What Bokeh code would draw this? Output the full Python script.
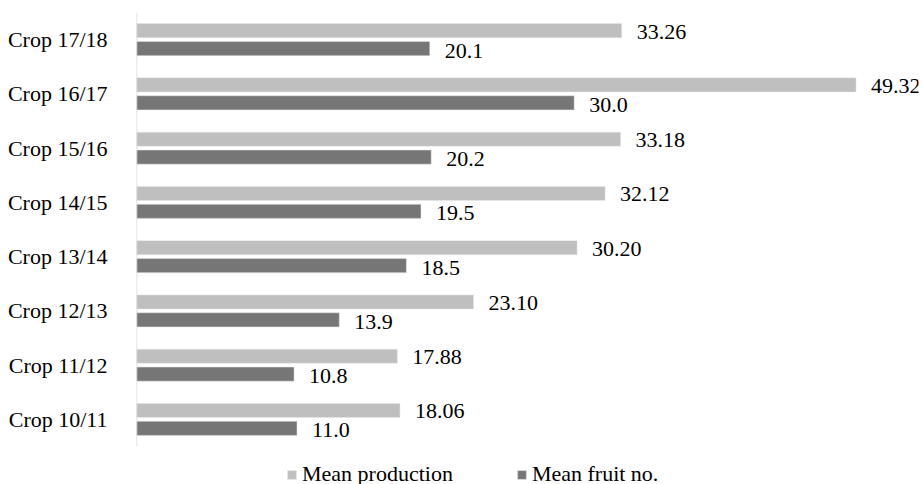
from bokeh.plotting import figure
from bokeh.models import (ColumnDataSource, Range1d, Legend, LegendItem, LabelSet,
                          FixedTicker)
from bokeh.transform import dodge
from bokeh.embed import file_html
from bokeh.resources import INLINE

categories = ["Crop 10/11", "Crop 11/12", "Crop 12/13", "Crop 13/14",
              "Crop 14/15", "Crop 15/16", "Crop 16/17", "Crop 17/18"]
mean_production = [18.06, 17.88, 23.10, 30.20, 32.12, 33.18, 49.32, 33.26]
mean_fruit_no = [11.0, 10.8, 13.9, 18.5, 19.5, 20.2, 30.0, 20.1]
series_names = ["Mean production", "Mean fruit no."]

FONT = "Liberation Serif"
LIGHT = "#bfbfbf"
DARK = "#767676"

n = len(categories)
ypos = [i + 0.5 for i in range(n)]

src = ColumnDataSource(dict(
    y=ypos,
    cat=categories,
    prod=mean_production,
    fruit=mean_fruit_no,
    prod_lbl=[f"{v:.2f}" for v in mean_production],
    fruit_lbl=[f"{v:.1f}" for v in mean_fruit_no],
))

p = figure(x_range=Range1d(0, 53.6), y_range=Range1d(-0.70, n),
           width=922, height=484, output_backend="svg",
           toolbar_location=None, min_border_left=136, min_border_top=12,
           min_border_right=4, min_border_bottom=0)
p.below = []

r1 = p.hbar(y=dodge("y", 0.165), right="prod", left=0, height=0.26,
            source=src, fill_color=LIGHT, line_color="#e6e6e6", line_width=0.5)
r2 = p.hbar(y=dodge("y", -0.165), right="fruit", left=0, height=0.26,
            source=src, fill_color=DARK, line_color="#e6e6e6", line_width=0.5)

# axis line only along the category band
p.segment(x0=[0], y0=[0], x1=[0], y1=[n], line_color="#d9d9d9", line_width=1.5)

p.add_layout(LabelSet(x="prod", y=dodge("y", 0.165), text="prod_lbl",
                      source=src, x_offset=15, y_offset=-1, text_baseline="middle",
                      text_align="left", text_font="'Liberation Serif'", text_font_size="22px",
                      text_color="#000000"))
p.add_layout(LabelSet(x="fruit", y=dodge("y", -0.165), text="fruit_lbl",
                      source=src, x_offset=15, y_offset=-2, text_baseline="middle",
                      text_align="left", text_font="serif", text_font_size="22px",
                      text_color="#000000"))

p.xgrid.visible = False
p.ygrid.visible = False
p.outline_line_color = None

ax = p.yaxis[0]
ax.ticker = FixedTicker(ticks=ypos)
ax.major_label_overrides = {y: c for y, c in zip(ypos, categories)}
ax.axis_line_color = None
ax.major_tick_line_color = None
ax.minor_tick_line_color = None
ax.major_label_text_font = FONT
ax.major_label_text_font_size = "22px"
ax.major_label_text_color = "#000000"
ax.major_label_standoff = 23

legend = Legend(items=[LegendItem(label=series_names[0], renderers=[r1]),
                       LegendItem(label=series_names[1], renderers=[r2])],
                orientation="horizontal", location=(150, -3),
                glyph_width=11, glyph_height=11, label_standoff=5, spacing=63,
                label_text_font="Times New Roman", label_text_font_size="22px",
                label_text_color="#000000", border_line_color=None,
                background_fill_alpha=0, padding=0, margin=0)
p.add_layout(legend, "center")

open("out.html", "w").write(file_html(p, INLINE))
